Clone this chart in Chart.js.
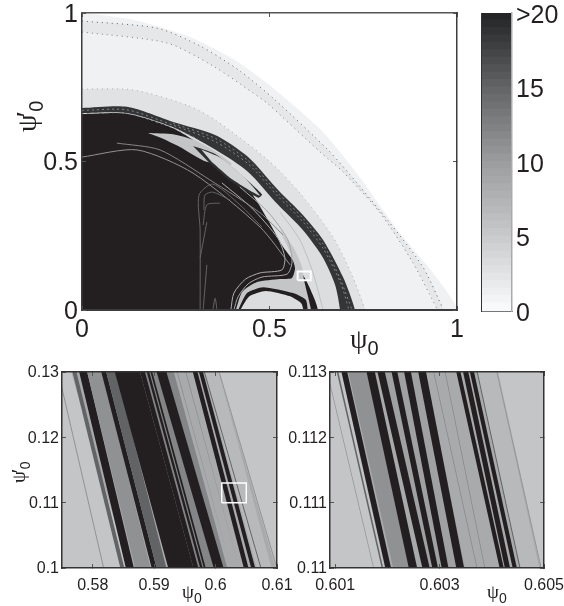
<!DOCTYPE html>
<html>
<head>
<meta charset="utf-8">
<style>
body { margin: 0; background: #fff; }
canvas { position: absolute; left: 0; top: 0; }
</style>
<script src="https://cdn.jsdelivr.net/npm/chart.js@4"></script>
</head>
<body>
<canvas id="mainChart" width="564" height="606"></canvas>
<canvas id="barChart" width="564" height="606"></canvas>
<canvas id="leftChart" width="564" height="606"></canvas>
<canvas id="rightChart" width="564" height="606"></canvas>
<script>
// grey level at escape-time 0, 5, 10, 15, 20
const rampGrey = [250, 200, 155, 98, 33]

// main panel: boundaries between the nested zones, [psi, psi']
const arcOuter = [[0, 1], [.141, .976], [.28, .923], [.403, .845], [.475, .781], [.541, .714], [.64, .603], [.728, .468], [.848, .259], [.936, .125], [1, .007]]
const arcDots = [[0, .973], [.2, .949], [.315, .889], [.421, .805], [.515, .707], [.656, .539], [.715, .455], [.821, .293], [.909, .145], [.963, .003]]
const arcInner = [[0, .936], [.227, .899], [.349, .822], [.456, .731], [.496, .694], [.635, .532], [.696, .465], [.795, .327], [.883, .158], [.947, .003]]
const arcGrey = [[0, .744], [.136, .741], [.28, .69], [.355, .64], [.496, .505], [.581, .394], [.669, .246], [.72, .118], [.755, 0]]
const arcBand = [[0, .68], [.12, .684], [.243, .633], [.355, .589], [.443, .515], [.523, .404], [.589, .32], [.643, .236], [.696, .111], [.728, 0]]
const arcBandIn = [[0, .663], [.12, .663], [.243, .615], [.355, .54], [.443, .465], [.523, .354], [.589, .269], [.643, .175], [.675, .084], [.688, 0]]
const arcCore = [[0, .66], [.12, .661], [.243, .612], [.355, .52], [.448, .4], [.496, .303], [.533, .219], [.568, .158], [.597, .101], [.621, .034], [.629, 0]]
const arcValues = [1, 2, 1, 2.5, 18.5, 3, 20]

// main panel: closed shapes on top of the core
const tongueGrey = [[.176, .596], [.243, .592], [.3, .572], [.36, .53], [.4, .49], [.33, .5], [.26, .55], [.21, .58]]
const tongueDark = [[.296, .552], [.355, .525], [.42, .46], [.48, .39], [.47, .378], [.4, .43], [.34, .495]]
const tongueLight = [[.318, .54], [.37, .512], [.43, .45], [.474, .385], [.4, .44], [.345, .5]]
const notchGrey = [[.408, -.01], [.427, .061], [.467, .094], [.528, .104], [.56, .108], [.568, .141], [.555, .195], [.528, .269], [.563, .212], [.587, .145], [.592, .101], [.603, .044], [.613, -.01]]
const notchRing = [[.413, -.01], [.44, .057], [.483, .077], [.563, .057], [.597, .034], [.603, -.01]]
const notchBubble = [[.418, -.01], [.445, .045], [.49, .064], [.555, .046], [.585, .022], [.592, -.01]]
const shapeList = [tongueGrey, tongueDark, tongueLight, notchGrey, notchRing, notchBubble]
const shapeValues = [5.5, 19, 4, 5.5, 20, 3]

// main panel: thin streaks
const streakBandA = [[0, .672], [.12, .674], [.243, .622], [.355, .567], [.443, .492], [.523, .382], [.589, .297], [.643, .207], [.69, .09], [.712, 0]]
const streakBandB = [[.243, .628], [.355, .578], [.443, .503], [.523, .393], [.589, .309], [.643, .222], [.69, .1], [.72, 0]]
const streakGap = [[0, .661], [.12, .662], [.243, .613], [.31, .575]]
const streakCoreA = [[.373, .428], [.453, .343], [.523, .24], [.541, .175], [.533, .135], [.475, .125], [.436, .104], [.405, .057], [.397, 0]]
const streakCoreB = [[.421, .414], [.496, .33], [.549, .236], [.56, .162], [.547, .121], [.48, .111], [.443, .088], [.416, .044], [.405, 0]]
const streakUpperA = [[0, .515], [.147, .539], [.296, .461], [.475, .279], [.555, .152]]
const streakUpperB = [[.093, .562], [.208, .539], [.341, .438], [.475, .327], [.536, .253]]
const cuspA = [[.315, 0], [.315, .269], [.312, .387], [.349, .424], [.421, .354], [.48, .279]]
const cuspB = [[.325, .337], [.328, .387], [.349, .397], [.395, .37]]
const cuspC = [[.323, .286], [.333, .354], [.368, .36]]
const cuspD = [[.333, .296], [.315, .175]]
const cuspE = [[.333, .152], [.323, 0]]
const cuspF = [[.349, 0], [.355, .04], [.36, 0]]
const cuspLight = [[.528, .33], [.581, .236], [.616, .125], [.643, 0]]
const streakList = [arcDots, arcInner, arcGrey, streakBandA, streakBandB, streakGap, streakCoreA, streakCoreB, streakUpperA, streakUpperB, cuspA, cuspB, cuspC, cuspD, cuspE, cuspF, cuspLight]
const streakValues = [15, 13, 8, 12, 12, 10, 8, 9, 11, 12, 15, 15, 15, 15, 15, 15, 6]

const mainBoxX = [.575, .61, .61, .575, .575]
const mainBoxY = [.1, .1, .13, .13, .1]

const colorbarValues = [.25, .75, 1.25, 1.75, 2.25, 2.75, 3.25, 3.75, 4.25, 4.75, 5.25, 5.75, 6.25, 6.75, 7.25, 7.75, 8.25, 8.75, 9.25, 9.75, 10.25, 10.75, 11.25, 11.75, 12.25, 12.75, 13.25, 13.75, 14.25, 14.75, 15.25, 15.75, 16.25, 16.75, 17.25, 17.75, 18.25, 18.75, 19.25, 19.75]

// lower left: stripes as left edge at psi'=0.13, left edge at psi'=0.1, width, value
const leftBandTop = [.5703, .5765, .5981, .5877, .5743, .5767, .5778, .5791, .5814, .5822, .5836, .5877, .5888, .5894, .5904, .5937, .5951, .5963, .5973, .5981, .6005]
const leftBandBottom = [.5703, .5858, .6067, .5964, .5817, .5845, .5854, .5869, .5896, .5904, .5923, .5964, .5975, .5981, .5997, .6024, .6037, .6046, .6058, .6073, .6099]
const leftBandWidth = [.05, .024, .0024, .0055, .00016, .00065, .0013, .0025, .0008, .0016, .0041, .0008, .0004, .0003, .0016, .00011, .00011, .00076, .00065, .00016, .00016]
const leftBandValue = [5.5, 8.5, 6.8, 12, 11, 15, 20, 11, 20, 15, 20, 20, 20, 20, 20, 12, 12, 20, 20, 15, 11]
const leftBoxX = [.601, .605, .605, .601, .601]
const leftBoxY = [.11, .11, .113, .113, .11]

// lower right: same layout
const rightBandTop = [.5990, .60112, .60371, .60195, .60084, .60103, .60112, .60125, .6016, .60181, .60208, .60232, .60259, .60288, .6031, .60332, .60345, .60358, .60371, .60409]
const rightBandBottom = [.5990, .60195, .60453, .60272, .60173, .60189, .60196, .60211, .60241, .60267, .60286, .60304, .60332, .60371, .60386, .60415, .60425, .6044, .60453, .60494]
const rightBandWidth = [.01, .003, .00038, .00077, .000013, .00003, .00011, .00035, .00016, .00014, .00011, .00013, .00015, .000013, .000013, .00008, .0001, .00008, .00002, .000013]
const rightBandValue = [5.5, 8.5, 6.8, 9.5, 11, 15, 20, 11, 20, 20, 20, 20, 20, 12, 12, 20, 20, 20, 15, 11]

function valueColor(value) {
    const pos = Math.min(value, 20) / 5
    const low = Math.min(Math.floor(pos), 3)
    const grey = Math.round(rampGrey[low] + (rampGrey[low + 1] - rampGrey[low]) * (pos - low))
    return value >= 20 ? '#231f20' : `rgb(${grey},${grey + 1},${Math.min(grey + 3, 255)})`
}

function toPoints(list) {
    return list.map(([x, y]) => ({ x, y }))
}

// close an arc along the axes, a little outside the plot so the corners stay square
function closeToAxes(arc) {
    const last = arc[arc.length - 1]
    return toPoints([[-.05, arc[0][1]], ...arc, [last[0], -.05], [-.05, -.05]])
}

function shapeDataset(points, value, tension) {
    return {
        data: points,
        showLine: true,
        fill: 'shape',
        backgroundColor: valueColor(value),
        borderWidth: 0,
        pointRadius: 0,
        tension,
    }
}

function lineDataset(points, color, width, dash, tension) {
    return {
        data: points,
        showLine: true,
        fill: false,
        borderColor: color,
        borderWidth: width,
        borderDash: dash,
        pointRadius: 0,
        tension,
    }
}

function bandDatasets(top, bottom, width, value, yTop, yBottom) {
    return top.map((t, i) => shapeDataset(toPoints([
        [t, yTop], [t + width[i], yTop], [bottom[i] + width[i], yBottom], [bottom[i], yBottom],
    ]), value[i], 0))
}

function boxDataset(xs, ys, width) {
    return lineDataset(xs.map((x, i) => ({ x, y: ys[i] })), '#fff', width, [], 0)
}

// first painted goes underneath
function paintOrder(datasets) {
    return datasets.map((d, i) => ({ ...d, order: datasets.length - i }))
}

// fixed room for each axis, so the plot box is set by the layout padding alone
function fitTo(room) {
    return scale => {
        if (scale.isHorizontal()) scale.height = room ? 38 : 0
        else scale.width = room
        scale.paddingLeft = scale.paddingRight = scale.paddingTop = scale.paddingBottom = 0
    }
}

function axis(position, min, max, ticks, labels, font, pad, lineColor, lineWidth, shift) {
    return {
        type: 'linear',
        position,
        min,
        max,
        afterBuildTicks: scale => { scale.ticks = ticks.map(value => ({ value })) },
        afterFit: fitTo(labels ? 62 : 0),
        border: { display: true, color: lineColor, width: lineWidth, z: 1 },
        grid: { drawOnChartArea: false, drawTicks: true, tickLength: -4, tickColor: '#555', tickWidth: 1, z: 1 },
        ticks: {
            display: !!labels,
            autoSkip: false,
            maxRotation: 0,
            padding: pad,
            labelOffset: shift || 0,
            color: '#231f20',
            font: { family: 'Liberation Sans', size: font },
            callback: (value, index) => (labels ? labels[index] : ''),
        },
    }
}

const axisText = {
    id: 'axisText',
    afterDraw(chart) {
        const ctx = chart.ctx
        for (const item of chart.options.plugins.axisText.items) {
            ctx.save()
            ctx.translate(item.x, item.y)
            if (item.up) ctx.rotate(-Math.PI / 2)
            ctx.fillStyle = '#231f20'
            ctx.textBaseline = 'alphabetic'
            ctx.font = `${item.size}px "Liberation Serif"`
            ctx.fillText('\u03c8', 0, 0)
            let x = ctx.measureText('\u03c8').width
            if (item.prime) {
                ctx.font = `${item.size}px "Liberation Sans"`
                ctx.fillText('\u2032', x - item.size * .1, 0)
                x += item.size * .1
            }
            ctx.font = `${Math.round(item.size * .72)}px "Liberation Sans"`
            ctx.fillText('0', x, item.size * .26)
            ctx.restore()
        }
    },
}

function panelOptions(box, scales, items) {
    return {
        responsive: false,
        animation: false,
        events: [],
        layout: { padding: box },
        scales,
        plugins: {
            legend: { display: false },
            tooltip: { enabled: false },
            axisText: { items },
        },
    }
}

const mainDatasets = [
    ...[arcOuter, arcDots, arcInner, arcGrey, arcBand, arcBandIn, arcCore].map((arc, i) => shapeDataset(closeToAxes(arc), arcValues[i], .25)),
    ...shapeList.map((shape, i) => shapeDataset(toPoints(shape), shapeValues[i], .2)),
    ...streakList.map((line, i) => lineDataset(toPoints(line), valueColor(streakValues[i]), 1, i < 3 ? [1, 4] : i < 6 ? [2, 3] : [], .25)),
    boxDataset(mainBoxX, mainBoxY, 2),
]

new Chart(document.getElementById('mainChart'), {
    type: 'scatter',
    data: { datasets: paintOrder(mainDatasets) },
    plugins: [axisText],
    options: panelOptions({ left: 20, top: 13, right: 107, bottom: 258 }, {
        x: axis('bottom', 0, 1, [0, .5, 1], ['0', '0.5', '1'], 25, 9, '#3c3c3e', 2),
        y: axis('left', 0, 1, [0, .5, 1], ['0', '0.5', '1'], 25, 8, '#3c3c3e', 1.5, 2),
        xTop: axis('top', 0, 1, [0, .5, 1], null, 25, 0, '#555', 1.5),
        yRight: axis('right', 0, 1, [0, .5, 1], null, 25, 0, '#3c3c3e', 1.5),
    }, [
        { x: 350, y: 348, size: 28 },
        { x: 36, y: 132, size: 28, up: true, prime: true },
    ]),
})

new Chart(document.getElementById('barChart'), {
    type: 'bar',
    data: {
        labels: ['count'],
        datasets: colorbarValues.map(value => ({
            data: [.5],
            backgroundColor: valueColor(value),
            barPercentage: 1,
            categoryPercentage: 1,
            inflateAmount: 1,
        })),
    },
    options: panelOptions({ left: 481, top: 13, right: 0, bottom: 295 }, {
        x: { stacked: true, afterFit: fitTo(0), ticks: { display: false }, grid: { display: false }, border: { display: true, color: '#777', width: 1, z: 1 } },
        y: {
            ...axis('right', 0, 20, [0, 5, 10, 15, 20], ['0', '5', '10', '15', '>20'], 25, 4, '#aaa', 1.5, 3),
            stacked: true,
            afterFit: fitTo(52),
            grid: { display: false, drawTicks: false },
        },
        yLeft: { ...axis('left', 0, 20, [], null, 25, 0, '#333', 1), grid: { display: false } },
    }),
})

new Chart(document.getElementById('leftChart'), {
    type: 'scatter',
    data: { datasets: paintOrder([...bandDatasets(leftBandTop, leftBandBottom, leftBandWidth, leftBandValue, .13, .1), boxDataset(leftBoxX, leftBoxY, 1.5)]) },
    plugins: [axisText],
    options: panelOptions({ left: 0, top: 372, right: 287, bottom: 0 }, {
        x: axis('bottom', .575, .61, [.58, .59, .6, .61], ['0.58', '0.59', '0.6', '0.61'], 16, 12, '#333', 1.5),
        y: axis('left', .1, .13, [.1, .11, .12, .13], ['0.1', '0.11', '0.12', '0.13'], 16, 7, '#333', 1.5, 1),
        xTop: axis('top', .575, .61, [.58, .59, .6, .61], null, 16, 0, '#333', 1.5),
        yRight: axis('right', .1, .13, [.1, .11, .12, .13], null, 16, 0, '#333', 1.5),
    }, [
        { x: 182, y: 598, size: 19 },
        { x: 25, y: 483, size: 19, up: true, prime: true },
    ]),
})

new Chart(document.getElementById('rightChart'), {
    type: 'scatter',
    data: { datasets: paintOrder(bandDatasets(rightBandTop, rightBandBottom, rightBandWidth, rightBandValue, .113, .11)) },
    plugins: [axisText],
    options: panelOptions({ left: 268, top: 372, right: 20, bottom: 0 }, {
        x: axis('bottom', .6009, .605, [.601, .603, .605], ['0.601', '0.603', '0.605'], 16, 12, '#333', 1.5),
        y: axis('left', .11, .113, [.11, .111, .112, .113], ['0.11', '0.111', '0.112', '0.113'], 16, 7, '#333', 1.5, 1),
        xTop: axis('top', .6009, .605, [.601, .603, .605], null, 16, 0, '#333', 1.5),
        yRight: axis('right', .11, .113, [.11, .111, .112, .113], null, 16, 0, '#333', 1.5),
    }, [
        { x: 487, y: 598, size: 19 },
    ]),
})
</script>
</body>
</html>
